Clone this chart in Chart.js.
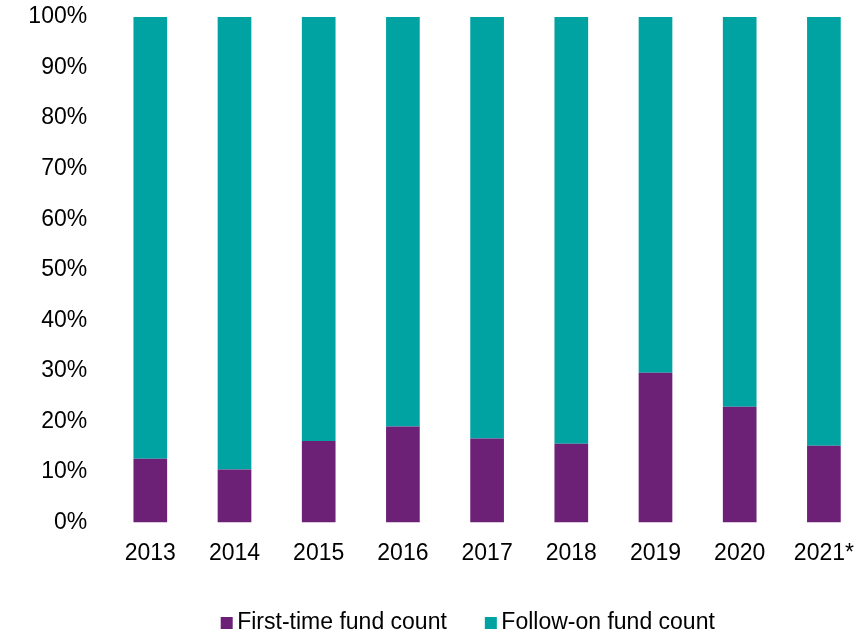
<!DOCTYPE html>
<html>
<head>
<meta charset="utf-8">
<script src="https://cdn.jsdelivr.net/npm/chart.js@4/dist/chart.umd.min.js"></script>
<style>
  html, body { margin: 0; padding: 0; overflow: hidden; background: #ffffff; }
  #wrap { width: 866px; height: 636px; position: relative; }
</style>
</head>
<body>
<div id="wrap"><canvas id="chart"></canvas></div>
<script>
// Share of funds closed each year: first-time vs follow-on (percent of count)
const years = ['2013', '2014', '2015', '2016', '2017', '2018', '2019', '2020', '2021*'];
const firstTimeShare = [12.6, 10.5, 16.1, 19.0, 16.6, 15.6, 29.6, 22.9, 15.2];
const followOnShare = firstTimeShare.map(v => +(100 - v).toFixed(1));
const yTicks = [0, 10, 20, 30, 40, 50, 60, 70, 80, 90, 100];

const PURPLE = '#6C2076';
const TEAL = '#00A3A1';
const FONT = { family: '"Liberation Sans", Arial, sans-serif', size: 23 };

// Compact legend row drawn under the axis: small square, short gap, label
const legendRow = {
  id: 'legendRow',
  afterDraw(chart, args, opts) {
    const ctx = chart.ctx;
    ctx.save();
    ctx.font = `${FONT.size}px ${FONT.family}`;
    ctx.textBaseline = 'middle';
    let x = opts.left;
    const y = opts.y;
    chart.data.datasets.forEach(ds => {
      ctx.fillStyle = ds.backgroundColor;
      ctx.fillRect(x, y - opts.box / 2, opts.box, opts.box);
      x += opts.box + opts.gap;
      ctx.fillStyle = '#000';
      ctx.fillText(ds.label, x, y);
      x += ctx.measureText(ds.label).width + opts.spacing;
    });
    ctx.restore();
  }
};

new Chart(document.getElementById('chart'), {
  type: 'bar',
  data: {
    labels: years,
    datasets: [
      { label: 'First-time fund count', data: firstTimeShare, backgroundColor: PURPLE },
      { label: 'Follow-on fund count', data: followOnShare, backgroundColor: TEAL }
    ]
  },
  options: {
    responsive: true,
    maintainAspectRatio: false,
    animation: false,
    layout: { padding: { top: 17, right: 0, bottom: 0, left: 0 } },
    datasets: { bar: { categoryPercentage: 1.0, barPercentage: 0.4 } },
    scales: {
      x: {
        stacked: true,
        grid: { display: false, drawTicks: false },
        border: { display: false },
        ticks: { color: '#000', font: FONT, padding: 17, maxRotation: 0 },
        afterFit(scale) {
          scale.height = 113.5;
          scale.paddingLeft = 0;
          scale.paddingRight = 0;
        }
      },
      y: {
        stacked: true,
        min: 0,
        max: 100,
        grid: { display: false, drawTicks: false },
        border: { display: false },
        afterBuildTicks(scale) { scale.ticks = yTicks.map(v => ({ value: v })); },
        ticks: { color: '#000', font: FONT, padding: 21, callback: v => v + '%' },
        afterFit(scale) {
          scale.width = 108.2;
          scale.paddingTop = 0;
          scale.paddingBottom = 0;
        }
      }
    },
    plugins: {
      legend: { display: false },
      tooltip: { enabled: false },
      legendRow: { left: 220.7, y: 623, box: 12, gap: 4.5, spacing: 38 }
    }
  },
  plugins: [legendRow]
});
</script>
</body>
</html>
